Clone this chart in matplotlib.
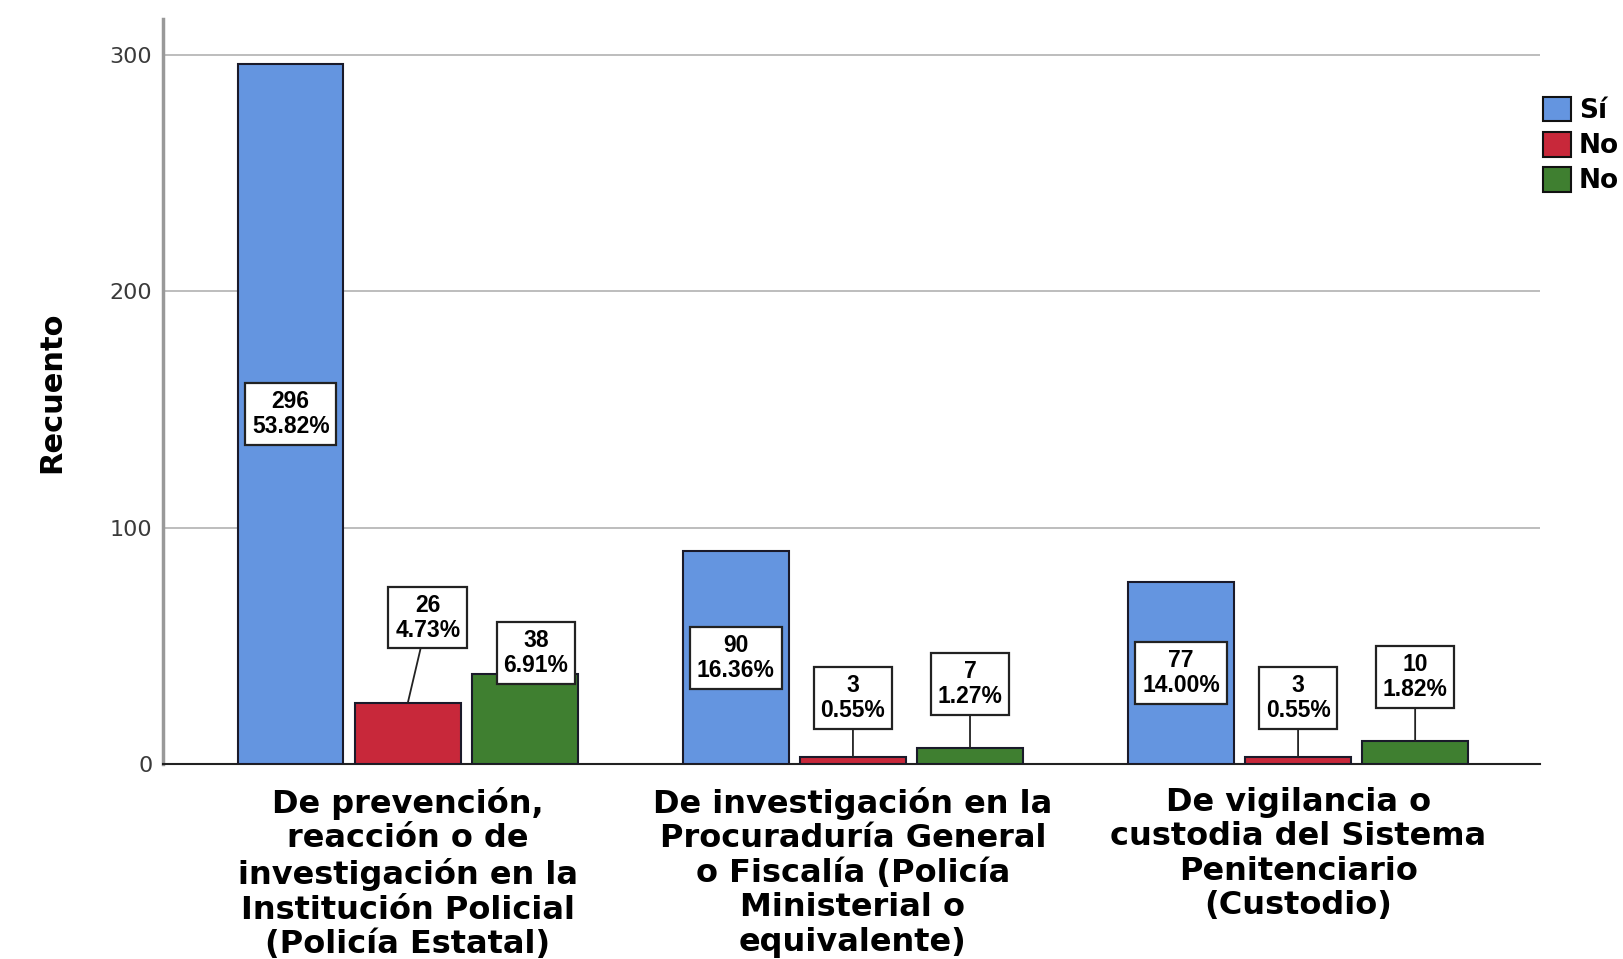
import numpy as np
import matplotlib.pyplot as plt

categories = ["De prevención,\nreacción o de\ninvestigación en la\nInstitución Policial\n(Policía Estatal)",
              "De investigación en la\nProcuraduría General\no Fiscalía (Policía\nMinisterial o\nequivalente)",
              "De vigilancia o\ncustodia del Sistema\nPenitenciario\n(Custodio)"]
series = ["Sí", "No", "No"]
si = [296, 90, 77]
no = [26, 3, 3]
nr = [38, 7, 10]
pct_si = ["53.82%", "16.36%", "14.00%"]
pct_no = ["4.73%", "0.55%", "0.55%"]
pct_nr = ["6.91%", "1.27%", "1.82%"]

colors = ["#6495E0", "#C8283A", "#3F7F30"]
# label box offsets (x in bar units, y in data units) for the small bars
off_no = [(0.045, 36), (0.0, 25), (0.0, 25)]
off_nr = [(0.025, 9), (0.0, 27), (0.0, 27)]

plt.rcParams['font.family'] = ['DejaVu Sans']

fig = plt.figure(figsize=(16.23, 9.59), dpi=100)
ax = fig.add_axes([0.1007, 0.203, 0.8483, 0.777])

x = np.arange(len(categories))
w = 0.237
step = 0.263
vals = [si, no, nr]
pcts = [pct_si, pct_no, pct_nr]
for k in range(3):
    ax.bar(x + (k - 1) * step, vals[k], width=w, color=colors[k],
           edgecolor="#1a1a2a", linewidth=1.5, label=series[k], zorder=3)

box = dict(boxstyle="square,pad=0.3", fc="white", ec="#222222", lw=1.6)
lab = dict(fontsize=16.5, fontweight="bold", family="Liberation Sans", linespacing=1.1)
for i in range(len(categories)):
    ax.text(x[i] - step, si[i] / 2, f"{si[i]}\n{pct_si[i]}", ha="center", va="center",
            bbox=box, zorder=5, **lab)
    for k, offs in ((1, off_no), (2, off_nr)):
        bx = x[i] + (k - 1) * step
        v = vals[k][i]
        dx, dy = offs[i]
        ax.annotate(f"{v}\n{pcts[k][i]}", xy=(bx, v), xytext=(bx + dx, v + dy),
                    ha="center", va="center", bbox=box, zorder=5, **lab,
                    arrowprops=dict(arrowstyle="-", color="#222222", lw=1.3,
                                    shrinkA=0, shrinkB=0))

ax.set_xlim(-0.549, 2.544)
ax.set_ylim(0, 315)
ax.set_yticks([0, 100, 200, 300])
ax.yaxis.grid(True, color="#b8b8b8", lw=1.3, zorder=0)
ax.tick_params(axis="y", length=0, pad=8, labelsize=16, labelcolor="#3a3a3a")
ax.tick_params(axis="x", length=0, pad=16)
ax.set_xticks(x)
ax.set_xticklabels(categories, fontsize=23, fontweight="bold", linespacing=1.15)
ax.set_ylabel("Recuento", fontsize=22, fontweight="bold", labelpad=31)
for s in ("top", "right"):
    ax.spines[s].set_visible(False)
ax.spines["left"].set_color("#999999")
ax.spines["left"].set_linewidth(2.5)
ax.spines["bottom"].set_color("#222222")
ax.spines["bottom"].set_linewidth(1.5)

leg = fig.legend(loc="upper left", bbox_to_anchor=(0.9445, 0.91), frameon=False,
                 prop=dict(weight="bold", size=19), handlelength=1.05, handleheight=1.05,
                 handletextpad=0.3, labelspacing=0.3, borderaxespad=0)
for h in leg.legend_handles:
    h.set_edgecolor("#111111")
    h.set_linewidth(1.5)

fig.savefig("out.png", dpi=100)
